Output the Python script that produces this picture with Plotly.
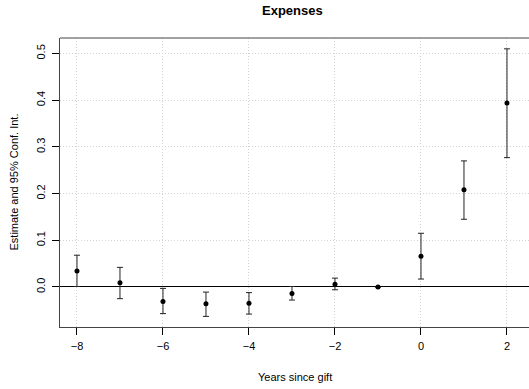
import plotly.graph_objects as go

years = [-8, -7, -6, -5, -4, -3, -2, -1, 0, 1, 2]
estimate = [0.034, 0.009, -0.031, -0.036, -0.035, -0.014, 0.006, 0.0, 0.066, 0.208, 0.394]
ci_upper = [0.068, 0.042, -0.003, -0.011, -0.012, 0.001, 0.019, 0.0, 0.115, 0.270, 0.510]
ci_lower = [0.001, -0.025, -0.057, -0.063, -0.058, -0.028, -0.006, 0.0, 0.017, 0.145, 0.277]

x_ticks = [-8, -6, -4, -2, 0, 2]
y_ticks = [0.0, 0.1, 0.2, 0.3, 0.4, 0.5]

err_plus = [u - e for u, e in zip(ci_upper, estimate)]
err_minus = [e - l for e, l in zip(estimate, ci_lower)]

font = "Liberation Sans, Arial, sans-serif"

fig = go.Figure()
fig.add_trace(go.Scatter(
    x=years, y=estimate, mode="markers",
    marker=dict(color="black", size=5),
    error_y=dict(type="data", symmetric=False, array=err_plus, arrayminus=err_minus,
                 color="#222222", thickness=1, width=3),
    showlegend=False,
))

fig.update_layout(
    width=529, height=389,
    margin=dict(l=60, r=0, t=38, b=62),
    paper_bgcolor="white", plot_bgcolor="white",
    font=dict(family=font, size=11, color="black"),
    xaxis=dict(
        range=[-8.395, 2.512], tickvals=x_ticks, ticktext=[str(v).replace("-", "\u2212") for v in x_ticks],
        showgrid=True, gridcolor="#d3d3d3", griddash="1px,2px", gridwidth=1,
        zeroline=False, showline=True, linecolor="#444444", linewidth=1,
        ticks="outside", ticklen=7, tickcolor="black", tickfont=dict(size=11),
        ticklabelstandoff=2,
    ),
    yaxis=dict(
        range=[-0.0857, 0.5332], tickvals=y_ticks, ticktext=[f"{v:.1f}" for v in y_ticks],
        showgrid=True, gridcolor="#d3d3d3", griddash="1px,2px", gridwidth=1,
        zeroline=True, zerolinecolor="black", zerolinewidth=1,
        showline=True, linecolor="#444444", linewidth=1,
        ticks="outside", ticklen=7, tickcolor="black", tickangle=-90, tickfont=dict(size=11),
        ticklabelstandoff=3,
    ),
    shapes=[dict(type="line", xref="paper", yref="paper", x0=0, x1=1, y0=1, y1=1,
                 line=dict(color="#444444", width=1))],
    annotations=[
        dict(text="<b>Expenses</b>", x=(292 - 60) / 469, y=1 + (38 - 11) / 289, xref="paper", yref="paper",
             showarrow=False, font=dict(size=13), xanchor="center", yanchor="middle"),
        dict(text="Years since gift", x=(294.5 - 60) / 469, y=-(377 - 327) / 289, xref="paper", yref="paper",
             showarrow=False, font=dict(size=11), xanchor="center", yanchor="middle"),
        dict(text="Estimate and 95% Conf. Int.", x=-(60 - 13) / 469, y=0.5, xref="paper", yref="paper",
             showarrow=False, font=dict(size=11), textangle=-90, xanchor="center", yanchor="middle"),
    ],
)

fig.write_html("out.html")
